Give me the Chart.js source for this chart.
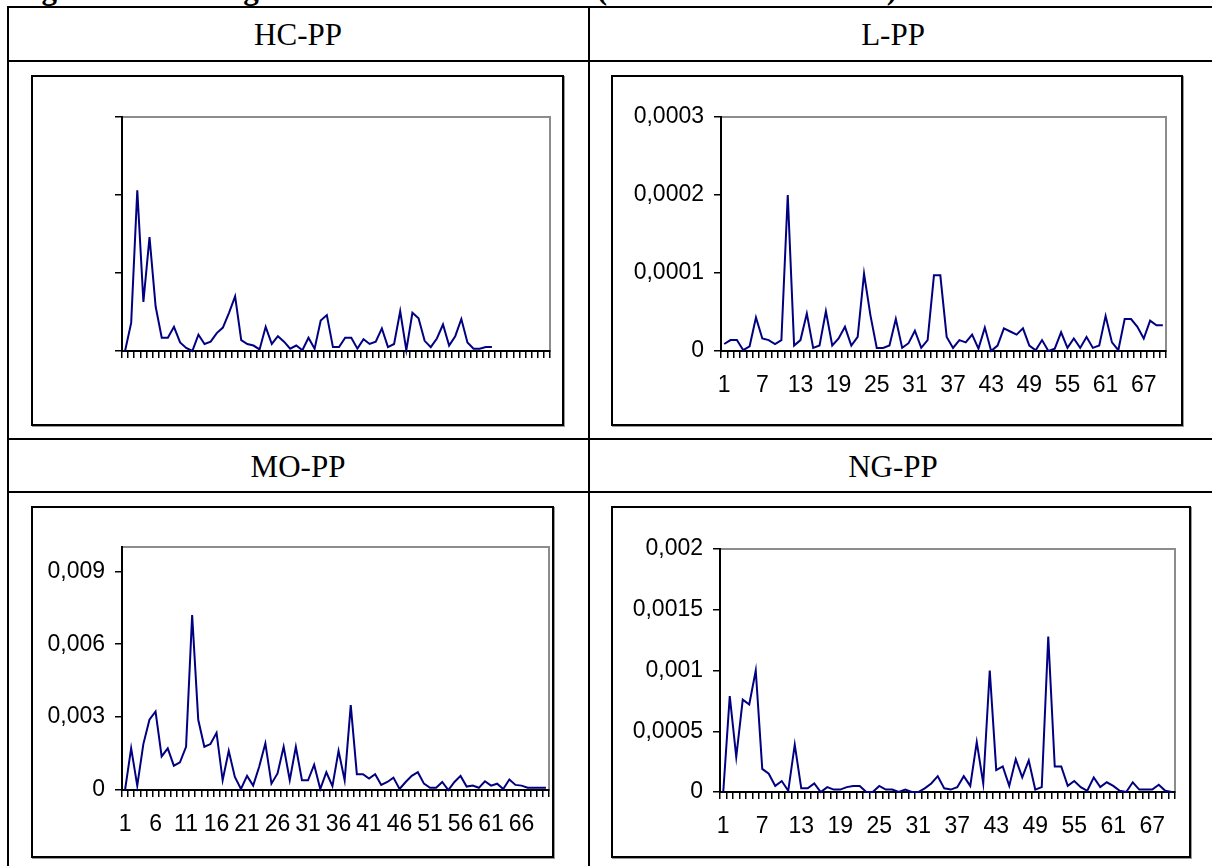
<!DOCTYPE html>
<html>
<head>
<meta charset="utf-8">
<script src="https://cdn.jsdelivr.net/npm/chart.js@4.4.1/dist/chart.umd.min.js"></script>
<style>
  body { margin: 0; width: 1212px; height: 866px; overflow: hidden; position: relative; background: #fff; font-family: "Liberation Serif", "Times New Roman", serif; }
  .hl { position: absolute; height: 2px; background: #000; }
  .vl { position: absolute; width: 2px; background: #000; }
  .cap { position: absolute; left: 14px; top: -26px; font-size: 31px; line-height: 30px; font-weight: bold; white-space: nowrap; }
  .head { position: absolute; font-size: 31px; line-height: 31px; white-space: nowrap; transform: translate(-50%, -50%); }
  .box { position: absolute; box-sizing: border-box; border: 2px solid #000; box-shadow: 1px 1px 0 #9a9a9a; }
  .box canvas { position: absolute; left: 0; top: 0; }
</style>
</head>
<body>

<div class="cap">Figure 3. Periodograms of the residual data (continued – PP series)</div>

<!-- table rules -->
<div class="hl" style="left:7px; top:6px; width:1210px;"></div>
<div class="hl" style="left:7px; top:60px; width:1210px;"></div>
<div class="hl" style="left:7px; top:438px; width:1210px;"></div>
<div class="hl" style="left:7px; top:491px; width:1210px;"></div>
<div class="vl" style="left:7px; top:6px; height:870px;"></div>
<div class="vl" style="left:588px; top:6px; height:870px;"></div>

<div class="head" style="left:298px; top:34px;">HC-PP</div>
<div class="head" style="left:893px; top:34px;">L-PP</div>
<div class="head" style="left:298px; top:466px;">MO-PP</div>
<div class="head" style="left:893px; top:466px;">NG-PP</div>

<div class="box" id="boxHC"><canvas id="hc"></canvas></div>
<div class="box" id="boxL"><canvas id="l"></canvas></div>
<div class="box" id="boxMO"><canvas id="mo"></canvas></div>
<div class="box" id="boxNG"><canvas id="ng"></canvas></div>

<script>
// Categories (periods 1..70)
var periods = [1, 2, 3, 4, 5, 6, 7, 8, 9, 10, 11, 12, 13, 14, 15, 16, 17, 18, 19, 20,
  21, 22, 23, 24, 25, 26, 27, 28, 29, 30, 31, 32, 33, 34, 35, 36, 37, 38, 39, 40,
  41, 42, 43, 44, 45, 46, 47, 48, 49, 50, 51, 52, 53, 54, 55, 56, 57, 58, 59, 60,
  61, 62, 63, 64, 65, 66, 67, 68, 69, 70];

// HC-PP (no scale printed, values in tick units)
var hcValues = [0, 0.36, 2.06, 0.63, 1.46, 0.57, 0.17, 0.17, 0.31, 0.11,
  0.04, 0, 0.21, 0.09, 0.12, 0.23, 0.30, 0.49, 0.70, 0.14,
  0.09, 0.07, 0.02, 0.31, 0.09, 0.19, 0.12, 0.03, 0.07, 0.01,
  0.17, 0.03, 0.39, 0.46, 0.05, 0.05, 0.17, 0.17, 0.03, 0.15,
  0.09, 0.12, 0.29, 0.05, 0.09, 0.51, 0.01, 0.49, 0.42, 0.13,
  0.05, 0.16, 0.34, 0.07, 0.19, 0.41, 0.11, 0.03, 0.03, 0.05, 0.05];
var hcTicks = [0, 1, 2, 3];

// L-PP
var lValues = [0.9e-5, 1.4e-5, 1.4e-5, 0.1e-5, 0.6e-5, 4.3e-5, 1.6e-5, 1.4e-5, 0.9e-5, 1.4e-5,
  20.0e-5, 0.7e-5, 1.4e-5, 4.8e-5, 0.4e-5, 0.7e-5, 5.1e-5, 0.7e-5, 1.6e-5, 3.1e-5,
  0.7e-5, 1.8e-5, 9.9e-5, 4.6e-5, 0.4e-5, 0.4e-5, 0.7e-5, 4.1e-5, 0.4e-5, 1.0e-5,
  2.6e-5, 0.4e-5, 1.4e-5, 9.7e-5, 9.7e-5, 1.8e-5, 0.4e-5, 1.4e-5, 1.1e-5, 2.1e-5,
  0.3e-5, 3.0e-5, 0, 0.7e-5, 2.9e-5, 2.5e-5, 2.1e-5, 2.9e-5, 0.7e-5, 0.1e-5,
  1.4e-5, 0, 0.3e-5, 2.4e-5, 0.4e-5, 1.6e-5, 0.4e-5, 1.8e-5, 0.4e-5, 0.7e-5,
  4.5e-5, 1.1e-5, 0.1e-5, 4.1e-5, 4.1e-5, 3.1e-5, 1.6e-5, 3.9e-5, 3.3e-5, 3.3e-5];
var lTicks = [0, 0.0001, 0.0002, 0.0003];
var lTickLabels = ['0', '0,0001', '0,0002', '0,0003'];

// MO-PP
var moValues = [0, 1.72e-3, 0.18e-3, 1.89e-3, 2.89e-3, 3.23e-3, 1.38e-3, 1.71e-3, 1.00e-3, 1.14e-3,
  1.78e-3, 7.20e-3, 2.89e-3, 1.78e-3, 1.89e-3, 2.35e-3, 0.40e-3, 1.61e-3, 0.54e-3, 0.04e-3,
  0.58e-3, 0.18e-3, 0.97e-3, 1.92e-3, 0.26e-3, 0.68e-3, 1.78e-3, 0.40e-3, 1.78e-3, 0.40e-3,
  0.40e-3, 1.04e-3, 0.04e-3, 0.73e-3, 0.16e-3, 1.61e-3, 0.40e-3, 3.49e-3, 0.65e-3, 0.65e-3,
  0.47e-3, 0.65e-3, 0.21e-3, 0.33e-3, 0.51e-3, 0.04e-3, 0.33e-3, 0.58e-3, 0.73e-3, 0.26e-3,
  0.09e-3, 0.09e-3, 0.33e-3, 0, 0.33e-3, 0.58e-3, 0.14e-3, 0.18e-3, 0.09e-3, 0.36e-3,
  0.18e-3, 0.26e-3, 0.04e-3, 0.43e-3, 0.21e-3, 0.18e-3, 0.09e-3, 0.09e-3, 0.09e-3, 0.09e-3];
var moTicks = [0, 0.003, 0.006, 0.009];
var moTickLabels = ['0', '0,003', '0,006', '0,009'];
var moMax = 0.01;

// NG-PP
var ngValues = [0, 7.9e-4, 2.9e-4, 7.6e-4, 7.2e-4, 10.0e-4, 1.9e-4, 1.5e-4, 0.5e-4, 0.9e-4,
  0.1e-4, 3.9e-4, 0.3e-4, 0.3e-4, 0.7e-4, 0, 0.4e-4, 0.2e-4, 0.2e-4, 0.4e-4,
  0.5e-4, 0.5e-4, 0, 0, 0.5e-4, 0.2e-4, 0.2e-4, 0, 0.2e-4, 0,
  0, 0.3e-4, 0.7e-4, 1.3e-4, 0.3e-4, 0.2e-4, 0.4e-4, 1.3e-4, 0.5e-4, 4.1e-4,
  0.7e-4, 10.0e-4, 1.8e-4, 2.1e-4, 0.5e-4, 2.7e-4, 1.2e-4, 2.6e-4, 0.2e-4, 0.4e-4,
  12.8e-4, 2.1e-4, 2.1e-4, 0.5e-4, 0.9e-4, 0.4e-4, 0.1e-4, 1.2e-4, 0.4e-4, 0.8e-4,
  0.5e-4, 0.1e-4, 0, 0.8e-4, 0.2e-4, 0.2e-4, 0.2e-4, 0.6e-4, 0.1e-4, 0];
var ngTicks = [0, 0.0005, 0.001, 0.0015, 0.002];
var ngTickLabels = ['0', '0,0005', '0,001', '0,0015', '0,002'];

// Layout: outer box and plot area, page pixels
var layout = {
  hc: { box: { x: 31, y: 75, w: 533, h: 351 }, plot: { l: 122, t: 117, r: 550, b: 351 } },
  l:  { box: { x: 611, y: 75, w: 572, h: 351 }, plot: { l: 721, t: 117, r: 1166, b: 351 } },
  mo: { box: { x: 31, y: 506, w: 523, h: 352 }, plot: { l: 122, t: 547, r: 549, b: 790 } },
  ng: { box: { x: 611, y: 506, w: 580, h: 352 }, plot: { l: 720, t: 549, r: 1175, b: 792 } }
};

Chart.defaults.font.family = '"Liberation Sans", Arial, sans-serif';
Chart.defaults.font.size = 23;
Chart.defaults.color = '#000';

// Excel-like plot frame: grey on top/right, axes drawn over it
var plotFrame = {
  id: 'plotFrame',
  beforeDraw: function(chart) {
    var a = chart.chartArea, ctx = chart.ctx;
    ctx.save();
    ctx.strokeStyle = '#8c8c8c';
    ctx.lineWidth = 2;
    ctx.strokeRect(a.left, a.top, a.right - a.left, a.bottom - a.top);
    ctx.restore();
  }
};

function makeChart(id, boxId, values, yTicks, yLabels, yMax, xStep) {
  var lay = layout[id];
  var box = document.getElementById(boxId);
  box.style.left = lay.box.x + 'px';
  box.style.top = lay.box.y + 'px';
  box.style.width = lay.box.w + 'px';
  box.style.height = lay.box.h + 'px';

  var cx = lay.box.x + 2, cy = lay.box.y + 2;
  var cw = lay.box.w - 4, ch = lay.box.h - 4;
  var canvas = document.getElementById(id);
  canvas.width = cw;
  canvas.height = ch;

  var yAxisW = lay.plot.l - cx;
  var xAxisH = cy + ch - lay.plot.b;

  return new Chart(canvas, {
    type: 'line',
    data: {
      labels: periods,
      datasets: [{
        data: values,
        borderColor: '#000080',
        borderWidth: 2,
        pointRadius: 0,
        tension: 0,
        clip: false
      }]
    },
    options: {
      responsive: false,
      animation: false,
      devicePixelRatio: 1,
      layout: { padding: { left: 0, top: lay.plot.t - cy, right: cx + cw - lay.plot.r, bottom: 0 } },
      plugins: { legend: { display: false }, tooltip: { enabled: false } },
      scales: {
        x: {
          type: 'category',
          offset: true,
          grid: { offset: true, drawOnChartArea: false, tickLength: 7, color: '#000', lineWidth: 1.5 },
          border: { color: '#000', width: 2 },
          ticks: {
            display: xStep > 0,
            autoSkip: false,
            maxRotation: 0,
            minRotation: 0,
            padding: 14,
            callback: function(v, i) { return i % xStep === 0 ? periods[i] : ''; }
          },
          afterFit: function(s) { s.height = xAxisH; s.paddingLeft = 0; s.paddingRight = 0; }
        },
        y: {
          min: 0,
          max: yMax,
          afterBuildTicks: function(s) { s.ticks = yTicks.map(function(v) { return { value: v }; }); },
          grid: { drawOnChartArea: false, tickLength: 7, color: '#000', lineWidth: 1.5 },
          border: { color: '#000', width: 2 },
          ticks: {
            display: yLabels !== null,
            padding: 10,
            callback: function(v, i) { return yLabels ? yLabels[i] : ''; }
          },
          afterFit: function(s) { s.width = yAxisW; s.paddingTop = 0; s.paddingBottom = 0; }
        }
      }
    },
    plugins: [plotFrame]
  });
}

makeChart('hc', 'boxHC', hcValues, hcTicks, null, 3, 0);
makeChart('l', 'boxL', lValues, lTicks, lTickLabels, 0.0003, 6);
makeChart('mo', 'boxMO', moValues, moTicks, moTickLabels, moMax, 5);
makeChart('ng', 'boxNG', ngValues, ngTicks, ngTickLabels, 0.002, 6);
</script>
</body>
</html>
